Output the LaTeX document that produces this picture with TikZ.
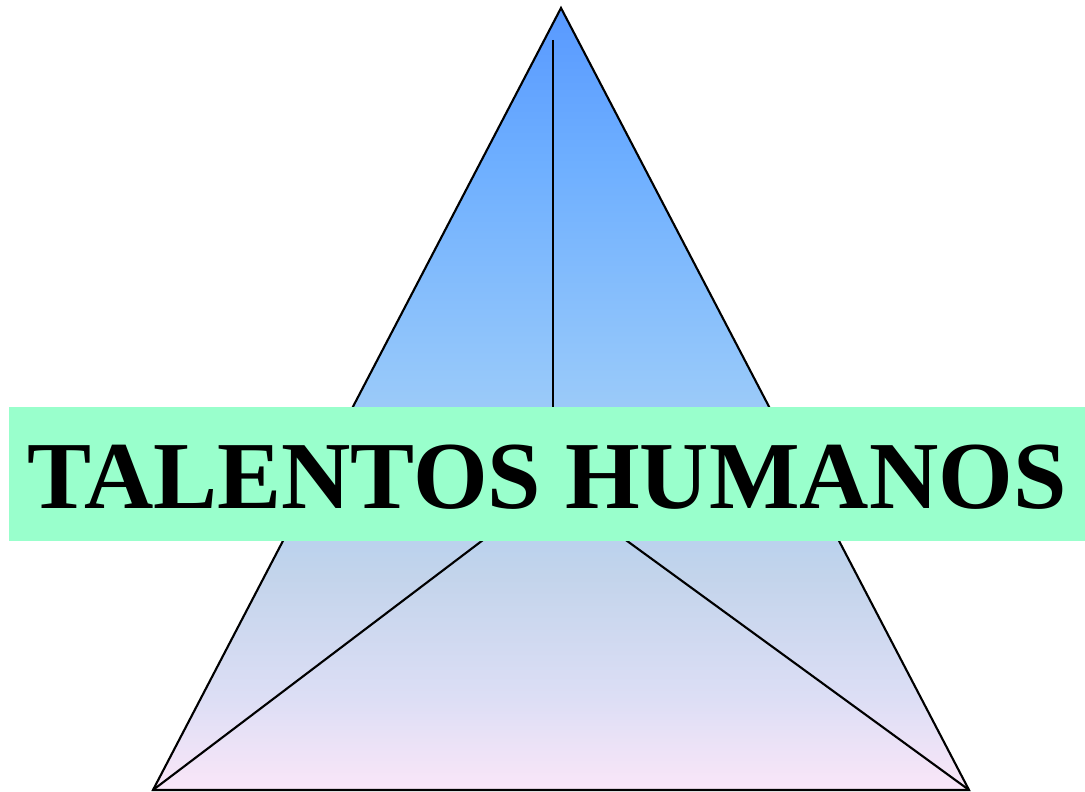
\documentclass[tikz,border=0pt]{standalone}
\usepackage{fontspec}
\setmainfont{Liberation Serif}
\usetikzlibrary{positioning}
\definecolor{pyrtop}{RGB}{88,153,255}
\definecolor{pyrhigh}{RGB}{110,175,255}
\definecolor{pyrmid}{RGB}{150,200,250}
\definecolor{pyrlow}{RGB}{195,212,235}
\definecolor{pyrlav}{RGB}{220,222,245}
\definecolor{pyrbase}{RGB}{250,230,248}
\definecolor{bannergreen}{RGB}{153,255,204}
\pgfdeclareverticalshading{pyrshade}{100bp}{color(0bp)=(pyrbase); color(25bp)=(pyrbase); color(31bp)=(pyrlav); color(38.7bp)=(pyrlow); color(51bp)=(pyrmid); color(65bp)=(pyrhigh); color(75bp)=(pyrtop); color(100bp)=(pyrtop)}

\begin{document}
\begin{tikzpicture}[
  x=0.01cm, y=-0.01cm,
  edge/.style={draw=black,line width=0.6pt},
  pyramid/.style={edge,shading=pyrshade},
  banner/.style={rectangle,fill=bannergreen,minimum width=10.76cm,minimum height=1.34cm,inner sep=0pt,text height=0.69cm,text depth=0pt,font=\fontsize{27.3}{30}\selectfont\bfseries},
]
\useasboundingbox (0,0) rectangle (1085,792);
% Pyramid corners
\coordinate (apex)  at (561,8);
\coordinate (left)  at (153,790);
\coordinate (right) at (969,790);
\coordinate (peak)  at (553,40);
\coordinate (mid)   at (553,487);

% Faces
\path[pyramid] (apex) -- (right) -- (left) -- cycle;
\draw[edge] (peak) -- (mid);
\draw[edge] (left) -- (mid) -- (right);

% Banner over the middle
\node[banner] (title) at (547,474) {TALENTOS HUMANOS};
\end{tikzpicture}
\end{document}
